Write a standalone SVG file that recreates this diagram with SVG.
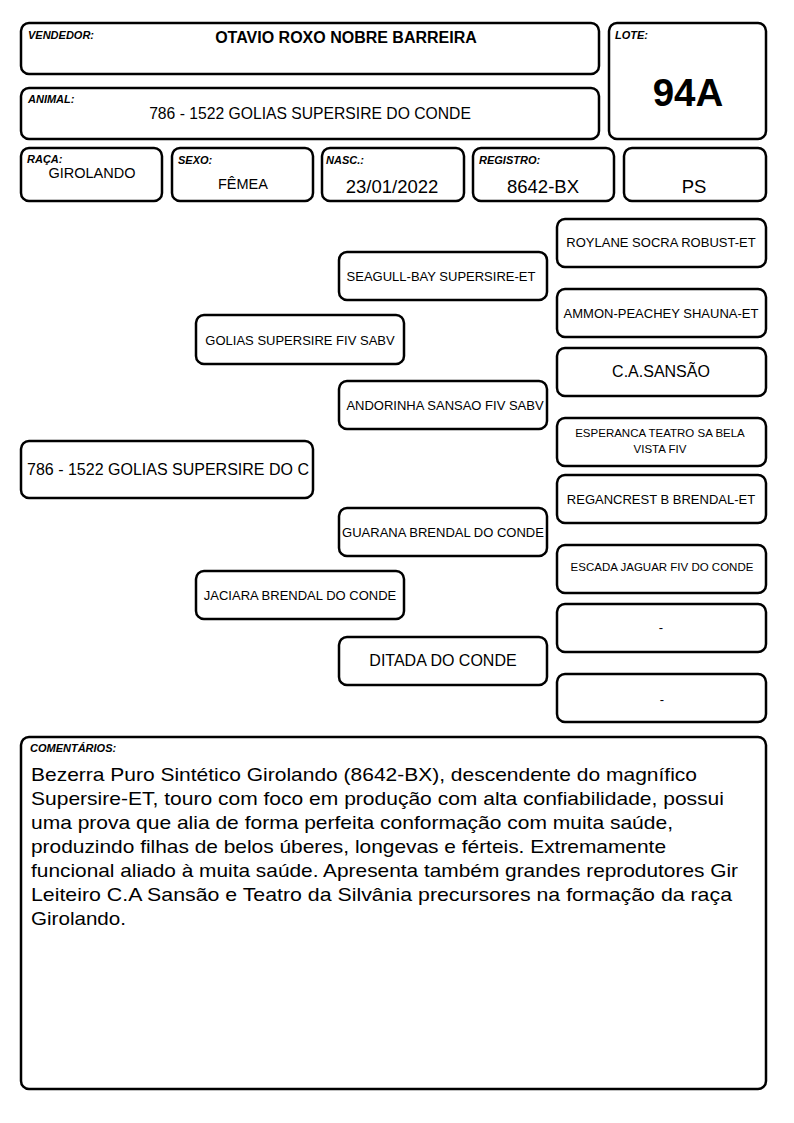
<svg xmlns="http://www.w3.org/2000/svg" width="794" height="1123" viewBox="0 0 794 1123">
<style>
.b{fill:#fff;stroke:#000;stroke-width:2.5}
text{font-family:"Liberation Sans",Arial,sans-serif;fill:#000}
.lb{font-size:11px;font-weight:bold;font-style:italic}
.c{text-anchor:middle}
.n{font-size:13px}
.s{font-size:11.5px}
.m{font-size:16px}
.v{font-size:18.5px}
</style>
<rect width="794" height="1123" fill="#fff"/>
<g id="vendedor"><rect class="b" x="21" y="23" width="578" height="51" rx="8"/><text class="lb" x="28" y="39">VENDEDOR:</text><text class="c" x="346" y="43" font-size="16" font-weight="bold">OTAVIO ROXO NOBRE BARREIRA</text></g>
<g id="animal"><rect class="b" x="21" y="88" width="578" height="51" rx="8"/><text class="lb" x="28" y="103">ANIMAL:</text><text class="c" x="310" y="119" font-size="15.7">786 - 1522 GOLIAS SUPERSIRE DO CONDE</text></g>
<g id="lote"><rect class="b" x="609" y="23" width="157" height="116" rx="8"/><text class="lb" x="615" y="39">LOTE:</text><text class="c" x="688" y="106" font-size="38.5" font-weight="bold">94A</text></g>
<g id="raca"><rect class="b" x="21" y="148" width="141" height="53" rx="8"/><text class="lb" x="27" y="163">RAÇA:</text><text class="c" x="92" y="178" font-size="14.5">GIROLANDO</text></g>
<g id="sexo"><rect class="b" x="172" y="148" width="141" height="53" rx="8"/><text class="lb" x="178" y="164">SEXO:</text><text class="c" x="243" y="189" font-size="14.5">FÊMEA</text></g>
<g id="nasc"><rect class="b" x="322" y="148" width="142" height="53" rx="8"/><text class="lb" x="326" y="164">NASC.:</text><text class="c v" x="392" y="193">23/01/2022</text></g>
<g id="registro"><rect class="b" x="473" y="148" width="141" height="53" rx="8"/><text class="lb" x="479" y="164">REGISTRO:</text><text class="c v" x="543" y="193">8642-BX</text></g>
<g id="ps"><rect class="b" x="624" y="148" width="142" height="53" rx="8"/><text class="c v" x="694" y="193">PS</text></g>

<g id="connectors"></g>

<g id="p0"><rect class="b" x="21" y="441" width="292" height="57" rx="8"/><text class="c m" x="168" y="475">786 - 1522 GOLIAS SUPERSIRE DO C</text></g>
<g id="p1"><rect class="b" x="196" y="315" width="208" height="49" rx="8"/><text class="c n" x="300" y="345">GOLIAS SUPERSIRE FIV SABV</text></g>
<g id="p2"><rect class="b" x="196" y="571" width="208" height="48" rx="8"/><text class="c n" x="300" y="600">JACIARA BRENDAL DO CONDE</text></g>
<g id="p3"><rect class="b" x="339" y="252" width="208" height="48" rx="8"/><text class="c n" x="441" y="281">SEAGULL-BAY SUPERSIRE-ET</text></g>
<g id="p4"><rect class="b" x="339" y="381" width="208" height="48" rx="8"/><text class="c n" x="445" y="410">ANDORINHA SANSAO FIV SABV</text></g>
<g id="p5"><rect class="b" x="339" y="508" width="208" height="48" rx="8"/><text class="c n" x="443" y="537">GUARANA BRENDAL DO CONDE</text></g>
<g id="p6"><rect class="b" x="339" y="637" width="208" height="48" rx="8"/><text class="c m" x="443" y="666">DITADA DO CONDE</text></g>
<g id="p7"><rect class="b" x="557" y="219" width="209" height="48" rx="8"/><text class="c n" x="661" y="247">ROYLANE SOCRA ROBUST-ET</text></g>
<g id="p8"><rect class="b" x="557" y="289" width="209" height="48" rx="8"/><text class="c n" x="661" y="318">AMMON-PEACHEY SHAUNA-ET</text></g>
<g id="p9"><rect class="b" x="557" y="348" width="209" height="48" rx="8"/><text class="c m" x="661" y="377">C.A.SANSÃO</text></g>
<g id="p10"><rect class="b" x="557" y="418" width="209" height="48" rx="8"/><text class="c s" x="660" y="437">ESPERANCA TEATRO SA BELA</text><text class="c s" x="660" y="453">VISTA FIV</text></g>
<g id="p11"><rect class="b" x="557" y="475" width="209" height="48" rx="8"/><text class="c n" x="661" y="504">REGANCREST B BRENDAL-ET</text></g>
<g id="p12"><rect class="b" x="557" y="545" width="209" height="48" rx="8"/><text class="c s" x="662" y="571">ESCADA JAGUAR FIV DO CONDE</text></g>
<g id="p13"><rect class="b" x="557" y="604" width="209" height="48" rx="8"/><text class="c n" x="661" y="632">-</text></g>
<g id="p14"><rect class="b" x="557" y="674" width="209" height="48" rx="8"/><text class="c n" x="662" y="704">-</text></g>

<g id="comentarios"><rect class="b" x="21" y="737" width="745" height="352" rx="8"/><text class="lb" x="30" y="752">COMENTÁRIOS:</text>
<g font-size="19">
<text x="31" y="781" textLength="666" lengthAdjust="spacingAndGlyphs">Bezerra Puro Sintético Girolando (8642-BX), descendente do magnífico</text>
<text x="31" y="805" textLength="693" lengthAdjust="spacingAndGlyphs">Supersire-ET, touro com foco em produção com alta confiabilidade, possui</text>
<text x="31" y="829" textLength="642" lengthAdjust="spacingAndGlyphs">uma prova que alia de forma perfeita conformação com muita saúde,</text>
<text x="31" y="853" textLength="635" lengthAdjust="spacingAndGlyphs">produzindo filhas de belos úberes, longevas e férteis. Extremamente</text>
<text x="31" y="877" textLength="707" lengthAdjust="spacingAndGlyphs">funcional aliado à muita saúde. Apresenta também grandes reprodutores Gir</text>
<text x="31" y="901" textLength="701" lengthAdjust="spacingAndGlyphs">Leiteiro C.A Sansão e Teatro da Silvânia precursores na formação da raça</text>
<text x="31" y="925" textLength="95" lengthAdjust="spacingAndGlyphs">Girolando.</text>
</g></g>
</svg>
